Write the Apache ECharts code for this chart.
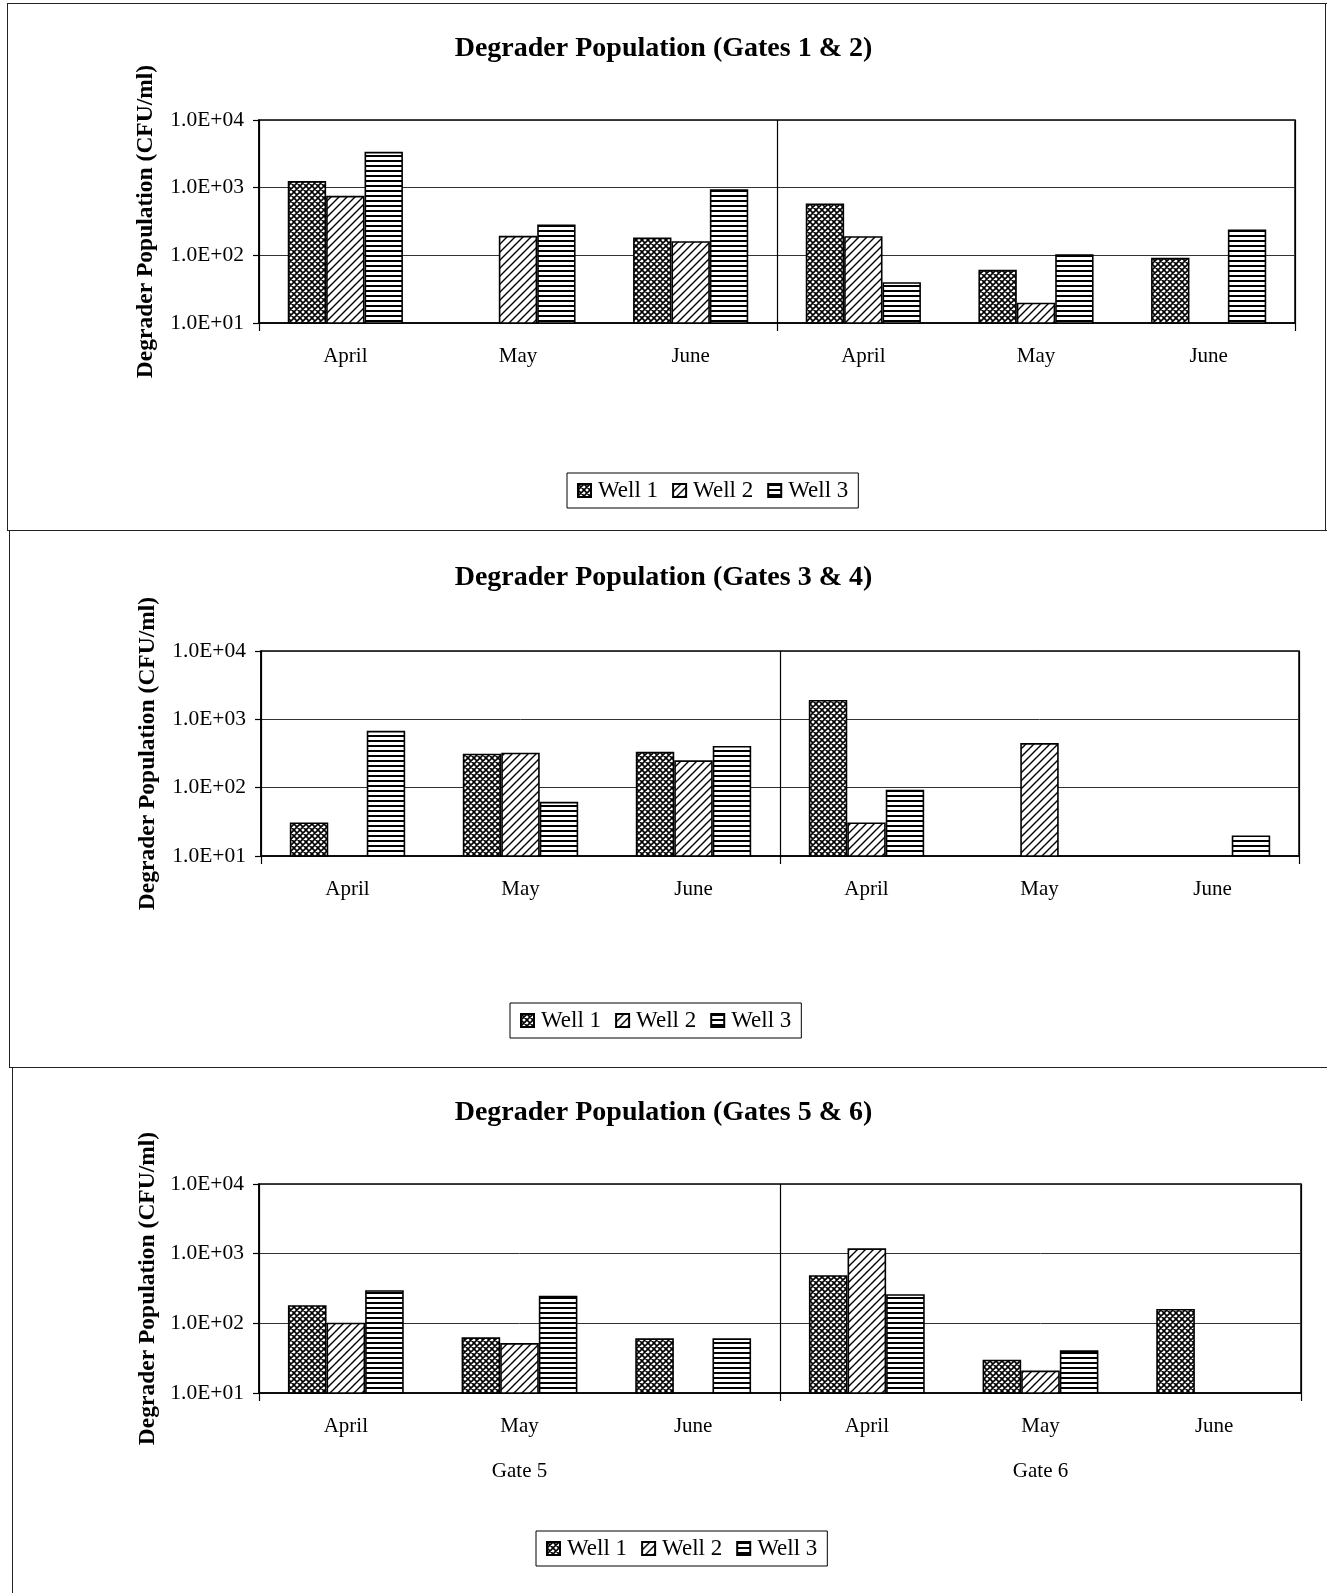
<!DOCTYPE html>
<html>
<head>
<meta charset="utf-8">
<script src="https://cdn.jsdelivr.net/npm/echarts/dist/echarts.min.js"></script>
<style>
  html, body { margin: 0; padding: 0; background: #fff; }
  body { width: 1327px; height: 1593px; position: relative; overflow: hidden; }
  .chart { position: absolute; left: 0; width: 1327px; }
  .ln { position: absolute; background: #222; z-index: 5; }
</style>
</head>
<body>
<div id="c1" class="chart" style="top:0;height:530px"></div>
<div id="c2" class="chart" style="top:530px;height:537px"></div>
<div id="c3" class="chart" style="top:1067px;height:526px"></div>

<!-- panel frames -->
<div class="ln" style="left:7px;top:3px;width:1320px;height:1px"></div>
<div class="ln" style="left:7px;top:3px;width:1px;height:527px"></div>
<div class="ln" style="left:1325px;top:3px;width:1px;height:527px"></div>
<div class="ln" style="left:7px;top:530px;width:1320px;height:1px"></div>
<div class="ln" style="left:9px;top:530px;width:1px;height:537px"></div>
<div class="ln" style="left:9px;top:1067px;width:1318px;height:1px"></div>
<div class="ln" style="left:12px;top:1067px;width:1px;height:526px"></div>

<script>
const months = ['April', 'May', 'June', 'April', 'May', 'June']
const wells = ['Well 1', 'Well 2', 'Well 3']
const yTickLabels = ['1.0E+01', '1.0E+02', '1.0E+03', '1.0E+04']

// Gates 1 & 2
const gates12 = ['Gate 1', 'Gate 2']
const g12Well1 = [1250, '-', 183, 583, 61, 92]
const g12Well2 = [758, 194, 162, 192, 20, '-']
const g12Well3 = [3390, 285, 950, 40, 104, 240]

// Gates 3 & 4
const gates34 = ['Gate 3', 'Gate 4']
const g34Well1 = [31, 314, 336, 1925, '-', '-']
const g34Well2 = ['-', 325, 251, 31, 449, '-']
const g34Well3 = [678, 62, 408, 93, '-', 20]

// Gates 5 & 6
const gates56 = ['Gate 5', 'Gate 6']
const g56Well1 = [182, 63, 61, 490, 30, 161]
const g56Well2 = [102, 52, '-', 1192, 21, '-']
const g56Well3 = [299, 248, 61, 262, 41, '-']

const serif = '"Liberation Serif", "Times New Roman", serif'

// fill patterns like the old b/w excel charts
const makePattern = (kind) => {
	const c = document.createElement('canvas')
	const ctx = c.getContext('2d')
	if (kind === 'cross') {
		c.width = 6; c.height = 6
		ctx.fillStyle = '#fff'
		ctx.fillRect(0, 0, 6, 6)
		ctx.strokeStyle = '#000'
		ctx.lineWidth = 1.6
		ctx.beginPath()
		ctx.moveTo(-1, -1); ctx.lineTo(7, 7)
		ctx.moveTo(-1, 7); ctx.lineTo(7, -1)
		ctx.moveTo(2, -4); ctx.lineTo(-4, 2)
		ctx.moveTo(4, 10); ctx.lineTo(10, 4)
		ctx.stroke()
	} else if (kind === 'diag') {
		c.width = 8; c.height = 8
		ctx.fillStyle = '#fff'
		ctx.fillRect(0, 0, 8, 8)
		ctx.strokeStyle = '#000'
		ctx.lineWidth = 1.4
		ctx.beginPath()
		ctx.moveTo(-1, 9); ctx.lineTo(9, -1)
		ctx.moveTo(-1, 1); ctx.lineTo(1, -1)
		ctx.moveTo(7, 9); ctx.lineTo(9, 7)
		ctx.stroke()
	} else {
		c.width = 4; c.height = 5
		ctx.fillStyle = '#fff'
		ctx.fillRect(0, 0, 4, 5)
		ctx.fillStyle = '#000'
		ctx.fillRect(0, 0, 4, 2)
	}
	return { image: c, repeat: 'repeat' }
}
const fills = [makePattern('cross'), makePattern('diag'), makePattern('lines')]

const buildOption = (cfg) => {
	const seriesData = [cfg.w1, cfg.w2, cfg.w3]
	return {
		animation: false,
		title: {
			text: cfg.title,
			left: 'center',
			top: cfg.titleTop,
			padding: 0,
			textStyle: { fontFamily: serif, fontSize: 28, fontWeight: 'bold', color: '#000', lineHeight: 30 },
		},
		legend: {
			data: wells,
			left: cfg.legendLeft,
			top: cfg.legendTop,
			orient: 'horizontal',
			icon: 'rect',
			itemWidth: 13,
			itemHeight: 13,
			itemGap: 14,
			padding: [6, 10],
			borderColor: '#000',
			borderWidth: 1,
			textStyle: { fontFamily: serif, fontSize: 23, color: '#000', padding: [0, 0, 0, 2] },
		},
		grid: {
			left: cfg.grid[0],
			right: cfg.grid[1],
			top: cfg.grid[2],
			bottom: cfg.grid[3],
			show: true,
			borderColor: '#000',
			borderWidth: 1.5,
		},
		xAxis: [
			{
				type: 'category',
				data: months,
				position: 'bottom',
				axisLine: { lineStyle: { color: '#000', width: 1.5 } },
				axisTick: { show: false },
				axisLabel: { fontFamily: serif, fontSize: 21, color: '#000', margin: 23, interval: 0 },
			},
			{
				type: 'category',
				data: cfg.gates,
				position: 'bottom',
				offset: 0,
				axisLine: { show: false },
				axisTick: { show: true, length: 8, interval: 0, lineStyle: { color: '#000', width: 1.2 } },
				splitLine: { show: true, interval: 0, lineStyle: { color: '#000', width: 1.2 } },
				axisLabel: { show: cfg.showGates, fontFamily: serif, fontSize: 21, color: '#000', margin: 68, interval: 0 },
			},
		],
		yAxis: {
			type: 'log',
			logBase: 10,
			min: 10,
			max: 10000,
			name: 'Degrader Population (CFU/ml)',
			nameLocation: 'middle',
			nameGap: cfg.nameGap,
			nameTextStyle: { fontFamily: serif, fontSize: 23.5, fontWeight: 'bold', color: '#000' },
			axisLine: { show: true, lineStyle: { color: '#000', width: 1.5 } },
			axisTick: { show: true, length: 6, lineStyle: { color: '#000', width: 1.2 } },
			splitLine: { show: true, lineStyle: { color: '#333', width: 1 } },
			axisLabel: {
				fontFamily: serif,
				fontSize: 21.5,
				color: '#000',
				margin: 15,
				formatter: (v) => yTickLabels[Math.round(Math.log10(v)) - 1],
			},
		},
		series: wells.map((w, i) => ({
			name: w,
			type: 'bar',
			xAxisIndex: 0,
			barGap: '0%',
			barCategoryGap: '33.3%',
			data: seriesData[i],
			itemStyle: { color: fills[i], borderColor: '#000', borderWidth: 1.6 },
		})),
	}
}

const cfgs = [
	{
		el: 'c1', title: 'Degrader Population (Gates 1 & 2)', titleTop: 34,
		grid: [259, 32, 120, 207], gates: gates12, showGates: false, nameGap: 101,
		legendLeft: 567, legendTop: 473, w1: g12Well1, w2: g12Well2, w3: g12Well3,
	},
	{
		el: 'c2', title: 'Degrader Population (Gates 3 & 4)', titleTop: 33,
		grid: [261, 28, 121, 211], gates: gates34, showGates: false, nameGap: 101,
		legendLeft: 510, legendTop: 473, w1: g34Well1, w2: g34Well2, w3: g34Well3,
	},
	{
		el: 'c3', title: 'Degrader Population (Gates 5 & 6)', titleTop: 31,
		grid: [259, 26, 117, 200], gates: gates56, showGates: true, nameGap: 99,
		legendLeft: 536, legendTop: 464, w1: g56Well1, w2: g56Well2, w3: g56Well3,
	},
]

const charts = cfgs.map((cfg) => {
	const ch = echarts.init(document.getElementById(cfg.el))
	ch.setOption(buildOption(cfg))
	return ch
})

window.addEventListener('resize', () => {
	charts.forEach((ch) => ch.resize())
})
</script>
</body>
</html>
